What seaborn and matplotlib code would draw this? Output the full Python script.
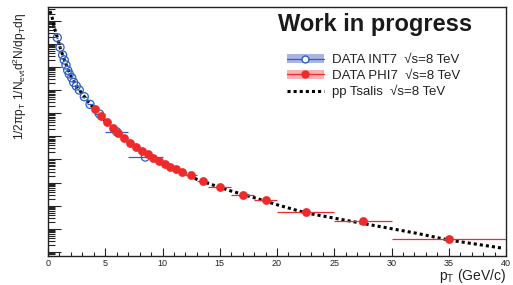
import numpy as np
import pandas as pd
import matplotlib
matplotlib.use('Agg')
import matplotlib.pyplot as plt
from matplotlib.lines import Line2D
from matplotlib.patches import Patch
from matplotlib.ticker import LogLocator, NullFormatter, MultipleLocator
import seaborn as sns

# INT7 data (open blue circles)
int7_pt = [0.81, 1.05, 1.28, 1.42, 1.57, 1.72, 1.86, 2.07, 2.24, 2.47, 2.73, 3.17, 3.67, 4.5, 6.0, 8.5]
int7_pt_err = [0.1, 0.1, 0.1, 0.1, 0.1, 0.1, 0.1, 0.1, 0.1, 0.1, 0.1, 0.25, 0.25, 0.5, 1.0, 1.5]
int7_y = [0.181, 0.0695, 0.0324, 0.0197, 0.0120, 0.00706, 0.00489, 0.00338, 0.00214,
          0.00148, 0.000995, 0.000511, 0.000240, 9.14e-5, 1.57e-5, 1.27e-6]

# PHI7 data (filled red circles)
phi7_pt = [4.10, 4.60, 5.18, 5.70, 6.14, 6.66, 7.16, 7.69, 8.18, 8.71, 9.20, 9.69,
           10.19, 10.68, 11.18, 11.68, 12.5, 13.5, 15.0, 17.0, 19.0, 22.5, 27.5, 35.0]
phi7_pt_err = [0.25] * 16 + [0.5, 0.5, 1.0, 1.0, 1.0, 2.5, 2.5, 5.0]
phi7_y = [1.50e-4, 7.50e-5, 4.01e-5, 2.34e-5, 1.45e-5, 8.39e-6, 5.11e-6, 3.54e-6,
          2.31e-6, 1.66e-6, 1.18e-6, 8.71e-7, 6.32e-7, 4.84e-7, 3.73e-7, 2.94e-7,
          2.12e-7, 1.19e-7, 6.24e-8, 2.90e-8, 1.76e-8, 5.51e-9, 2.25e-9, 3.64e-10]

# pp Tsallis curve
tsallis_pt = [0.17, 0.38, 0.55, 0.70, 1.05, 1.5, 2.0, 2.5, 3.0, 3.5, 4.0, 5.0, 6.0, 7.0,
              8.0, 9.0, 10.0, 11.0, 12.0, 13.0, 14.15, 15.9, 17.93, 19.83, 22.45,
              27.45, 32.2, 35.0, 39.8]
tsallis_y = [2.57, 1.24, 0.49, 0.288, 0.0695, 0.0155, 0.0040, 0.00140, 0.00068, 0.00031,
             0.000165, 4.6e-5, 1.5e-5, 5.9e-6, 2.7e-6, 1.35e-6, 7.3e-7, 4.1e-7, 2.5e-7,
             1.38e-7, 8.7e-8, 4.47e-8, 2.29e-8, 1.17e-8, 5.0e-9, 1.74e-9, 6.46e-10,
             3.31e-10, 1.45e-10]

blue = '#2f5fc0'
red = '#ee2a2a'

sns.set_theme(style='ticks')
plt.rcParams['font.family'] = ['Liberation Sans', 'DejaVu Sans']
plt.rcParams['mathtext.fontset'] = 'custom'
plt.rcParams['mathtext.rm'] = 'Liberation Sans'
plt.rcParams['mathtext.it'] = 'Liberation Sans:italic'

fig = plt.figure(figsize=(5.13, 2.85), dpi=100)
ax = fig.add_axes([48 / 513, 29 / 285, 458 / 513, 249 / 285])

curve = pd.DataFrame({'pt': tsallis_pt, 'y': tsallis_y})
sns.lineplot(data=curve, x='pt', y='y', ax=ax, color='black', lw=2.2,
             dashes=False, zorder=2)
ax.lines[-1].set_dashes((1, 1))
ax.lines[-1].set_dash_capstyle('butt')

ax.errorbar(int7_pt, int7_y, xerr=int7_pt_err, fmt='none', ecolor=blue, elinewidth=0.9,
            capsize=0, zorder=3)
sns.scatterplot(x=int7_pt, y=int7_y, ax=ax, marker='o', s=34, facecolors='none',
                edgecolor=blue, linewidth=0.9, zorder=4)

ax.errorbar(phi7_pt, phi7_y, xerr=phi7_pt_err, fmt='none', ecolor=red, elinewidth=0.9,
            capsize=0, zorder=5)
sns.scatterplot(x=phi7_pt, y=phi7_y, ax=ax, marker='o', s=40, color=red,
                edgecolor=red, linewidth=0, zorder=6)

ax.set_yscale('log')
ax.set_xlim(0, 40)
ax.set_ylim(10 ** -10.17, 10 ** 0.583)
ax.xaxis.set_major_locator(MultipleLocator(5))
ax.xaxis.set_minor_locator(MultipleLocator(1))
ax.yaxis.set_major_locator(LogLocator(base=10, numticks=20))
ax.yaxis.set_minor_locator(LogLocator(base=10, subs=np.arange(2, 10), numticks=20))
ax.yaxis.set_major_formatter(NullFormatter())
ax.yaxis.set_minor_formatter(NullFormatter())
ax.tick_params(axis='x', which='major', direction='in', length=5.8, width=0.8,
               labelsize=6.5, pad=2.5, colors='#222222')
ax.tick_params(axis='x', which='minor', direction='in', length=2.9, width=0.8)
ax.tick_params(axis='y', which='major', direction='in', length=9.4, width=0.8)
ax.tick_params(axis='y', which='minor', direction='in', length=4.8, width=0.8)
for s in ax.spines.values():
    s.set_visible(True)
    s.set_linewidth(1.0)
    s.set_color('#222222')
ax.set_xlabel('')
ax.set_ylabel('')

fig.text(20 / 513, 1 - 13 / 285,
         r'1/2πp$_{\rm T}$ 1/N$_{\rm evt}$d$^{2}$N/dp$_{\rm T}$dη',
         rotation=90, ha='center', va='top', fontsize=8.6, color='#222222')
fig.text(506 / 513, 1 - 276 / 285, r'p$_{\rm T}$ (GeV/c)', ha='right', va='center',
         fontsize=10, color='#222222')
fig.text(375 / 513, 1 - 25 / 285, 'Work in progress', ha='center', va='center',
         fontsize=17, fontweight='bold', color='#1a1a1a')

h_int7 = (Patch(facecolor='#a9b4e2', edgecolor='none'),
          Line2D([], [], color=blue, lw=0.9, marker='o', markersize=5,
                 markerfacecolor='white', markeredgecolor=blue))
h_phi7 = (Patch(facecolor='#f7b3b3', edgecolor='none'),
          Line2D([], [], color=red, lw=0.9, marker='o', markersize=5,
                 markerfacecolor=red, markeredgecolor=red))
h_ts = Line2D([], [], color='black', lw=2.2, dashes=(1, 1), dash_capstyle='butt')
fig.legend([h_int7, h_phi7, h_ts],
           ['DATA INT7  √s=8 TeV', 'DATA PHI7  √s=8 TeV', 'pp Tsalis  √s=8 TeV'],
           loc='upper left', bbox_to_anchor=(287 / 513, 1 - 54 / 285), frameon=False,
           fontsize=9.5, handlelength=2.8, handletextpad=0.6, labelspacing=0.25,
           borderpad=0, borderaxespad=0, labelcolor='#222222')

fig.savefig('out.png', dpi=100)
